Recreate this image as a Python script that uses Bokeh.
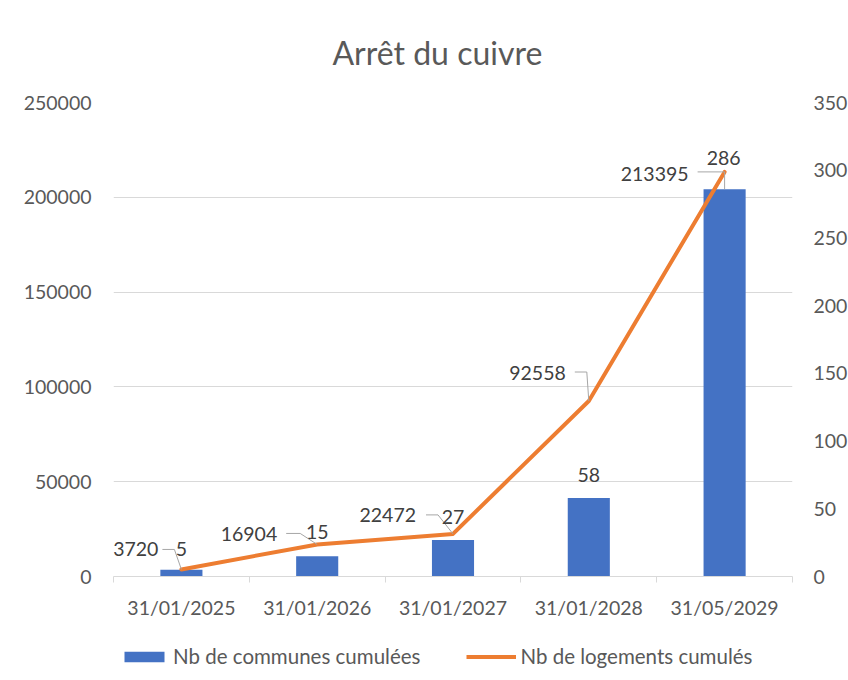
from bokeh.plotting import figure
from bokeh.layouts import column
from bokeh.models import Range1d, LinearAxis, FixedTicker, Legend, LegendItem, BasicTickFormatter
from bokeh.core.properties import value
from bokeh.embed import file_html
from bokeh.resources import INLINE

# ---- data ----
categories = ["31/01/2025", "31/01/2026", "31/01/2027", "31/01/2028", "31/05/2029"]
communes = [5, 15, 27, 58, 286]
logements = [3720, 16904, 22472, 92558, 213395]
left_ticks = [0, 50000, 100000, 150000, 200000, 250000]
right_ticks = [0, 50, 100, 150, 200, 250, 300, 350]
series_names = ["Nb de communes cumulées", "Nb de logements cumulés"]

# ---- layout / style ----
LEFT_MAX = 250000
RIGHT_MAX = 350
FRAME_W, FRAME_H = 679, 474
BORDER_L, BORDER_R, BORDER_T, BORDER_B = 113, 52, 101, 50
FIG_W = BORDER_L + FRAME_W + BORDER_R
LEG_H = 55
FONT = "Lato"
TXT = "#595959"
LBL = "#404040"
GRID = "#D9D9D9"
BLUE = "#4472C4"
ORANGE = "#ED7D31"
FS = "19.5px"

n = len(categories)
xs = list(range(1, n + 1))

p = figure(frame_width=FRAME_W, frame_height=FRAME_H,
           min_border_left=BORDER_L, min_border_right=BORDER_R,
           min_border_top=BORDER_T, min_border_bottom=BORDER_B,
           x_range=Range1d(0.5, n + 0.5), y_range=Range1d(0, LEFT_MAX),
           output_backend="svg", toolbar_location=None, title="Arrêt du cuivre",
           y_axis_location=None)
p.extra_y_ranges = {"right": Range1d(0, RIGHT_MAX)}
p.outline_line_color = None
p.background_fill_color = "white"
p.border_fill_color = "white"

p.title.text_font = FONT
p.title.text_font_size = "32px"
p.title.text_font_style = "normal"
p.title.text_color = TXT
p.title.align = "left"
p.title.offset = 219
p.title.standoff = 61

# x axis
xa = p.xaxis[0]
xa.ticker = FixedTicker(ticks=xs, minor_ticks=[x - 0.5 for x in xs] + [n + 0.5])
xa.major_label_overrides = {x: c for x, c in zip(xs, categories)}
xa.major_tick_line_color = None
xa.major_tick_out = 0
xa.major_tick_in = 0
xa.minor_tick_line_color = GRID
xa.minor_tick_out = 6
xa.minor_tick_in = 0
xa.axis_line_color = GRID
xa.major_label_standoff = 13
xa.major_label_text_font = FONT
xa.major_label_text_font_size = FS
xa.major_label_text_color = TXT

# left axis
la = LinearAxis(ticker=FixedTicker(ticks=left_ticks),
                formatter=BasicTickFormatter(use_scientific=False))
p.add_layout(la, "left")
# right axis
ra = LinearAxis(y_range_name="right", ticker=FixedTicker(ticks=right_ticks),
                formatter=BasicTickFormatter(use_scientific=False))
p.add_layout(ra, "right")
for ax, so in ((la, 22), (ra, 21)):
    ax.axis_line_color = None
    ax.major_tick_line_color = None
    ax.minor_tick_line_color = None
    ax.major_tick_out = 0
    ax.major_tick_in = 0
    ax.major_label_standoff = so
    ax.major_label_text_font = FONT
    ax.major_label_text_font_size = FS
    ax.major_label_text_color = TXT

p.xgrid.grid_line_color = None
p.ygrid.grid_line_color = GRID
p.ygrid.ticker = FixedTicker(ticks=left_ticks)

# bars (communes, right axis)
p.vbar(x=xs, top=communes, width=0.31, y_range_name="right",
       fill_color=BLUE, line_color=None)

# line (logements, left axis)
p.line(x=xs, y=logements, line_color=ORANGE, line_width=4,
       line_join="round", line_cap="round")

# leader lines (pixel offsets from each line point, converted through the frame scale)
px_x = n / FRAME_W
px_y = LEFT_MAX / FRAME_H
leader_px = [
    [(-19, -20), (-7, -20), (0, 0)],
    [(-31, -11), (-17, -11), (0, 0)],
    [(-27, -19), (-15, -19), (0, 0)],
    [(-14, -29), (-2, -29), (0, 0)],
    [(-27, 0), (-3, 0), (0, 0)],
]
lxs, lys = [], []
for x, y, pts in zip(xs, logements, leader_px):
    lxs.append([x + dx * px_x for dx, dy in pts])
    lys.append([y - dy * px_y for dx, dy in pts])
# leader from last line point down to its bar top
lxs.append([xs[-1], xs[-1]])
lys.append([logements[-1], communes[-1] * LEFT_MAX / RIGHT_MAX])
p.multi_line(xs=lxs, ys=lys, line_color="#A6A6A6", line_width=1)

# data labels
log_dx = [-23, -40, -37, -23, -36]
log_dy = [-20, -10, -19, -28, 2]
p.text(x=xs, y=logements, text=[str(v) for v in logements],
       x_offset=log_dx, y_offset=log_dy, text_align="right", text_baseline="middle",
       text_font=value(FONT), text_font_size=FS, text_color=LBL)

com_dx = [0, 0, 0, 0, -1]
com_dy = [-21, -24, -23, -23, -31]
p.text(x=xs, y=communes, text=[str(v) for v in communes], y_range_name="right",
       x_offset=com_dx, y_offset=com_dy, text_align="center", text_baseline="middle",
       text_font=value(FONT), text_font_size=FS, text_color=LBL)

# ---- legend strip (separate small figure below the chart) ----
lg = figure(width=FIG_W, height=LEG_H, x_range=Range1d(0, 1), y_range=Range1d(0, 1),
            output_backend="svg", toolbar_location=None,
            min_border_left=0, min_border_right=0, min_border_top=0, min_border_bottom=0)
lg.axis.visible = False
lg.grid.visible = False
lg.outline_line_color = None
lg.background_fill_color = "white"
lg.border_fill_color = "white"
# proxy renderers for the legend swatches (placed outside the strip's visible range)
rb = lg.vbar(x=[-5], top=[-5], bottom=[-6], width=0.31, fill_color=BLUE, line_color=None)
rl = lg.line(x=[-6, -5], y=[-6, -5], line_color=ORANGE, line_width=4, line_cap="butt")
legend = Legend(items=[LegendItem(label=series_names[0], renderers=[rb]),
                       LegendItem(label=series_names[1], renderers=[rl])],
                orientation="horizontal", location=(6, 13),
                glyph_width=50, glyph_height=13, label_standoff=4, spacing=46,
                padding=0, margin=0, border_line_color=None, background_fill_alpha=0,
                label_text_font=FONT, label_text_font_size="20.5px", label_text_color=TXT)
lg.add_layout(legend, "center")

layout = column(p, lg, spacing=0)
open("out.html", "w").write(file_html(layout, INLINE))
